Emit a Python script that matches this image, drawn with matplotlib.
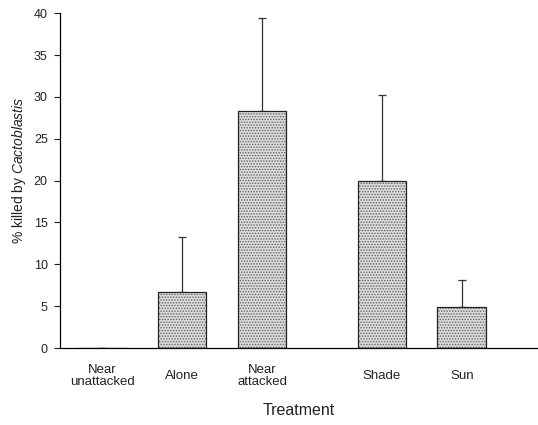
import numpy as np
import matplotlib
matplotlib.use("Agg")
import matplotlib.pyplot as plt
import matplotlib.transforms as mtransforms

plt.rcParams["font.family"] = "Liberation Sans"
plt.rcParams["mathtext.fontset"] = "custom"
plt.rcParams["mathtext.it"] = "Liberation Sans:italic"
plt.rcParams["hatch.linewidth"] = 0.7

# treatment groups, position on x axis (gap between the two experiments)
CATEGORIES = ["Near\nunattacked", "Alone", "Near\nattacked", "Shade", "Sun"]
POSITIONS = [0, 1, 2, 3.5, 4.5]

# % killed by Cactoblastis, mean and upper error
MEANS = [0.0, 6.7, 28.3, 19.9, 4.9]
ERRORS = [0.0, 6.6, 11.1, 10.3, 3.2]

Y_TICKS = [0, 5, 10, 15, 20, 25, 30, 35, 40]


def main():
    fig = plt.figure(figsize=(5.38, 4.25), dpi=100)
    ax = fig.add_axes([0.112, 0.181, 0.886, 0.788])

    x = np.array(POSITIONS)
    width = 0.61

    # stippled fill
    ax.bar(x, MEANS, width=width, color="#dcdcdc", edgecolor="#606060",
           hatch="......", linewidth=0, zorder=2)
    # outline
    ax.bar(x, MEANS, width=width, fill=False, edgecolor="#222222",
           linewidth=0.9, zorder=3)

    ax.errorbar(x, MEANS, yerr=[np.zeros(len(ERRORS)), ERRORS], fmt="none",
                ecolor="#333333", elinewidth=0.9, capsize=3, capthick=0.9,
                zorder=1)

    ax.set_ylim(0, 40)
    ax.set_xlim(-0.525, 5.44)
    ax.set_yticks(Y_TICKS)
    ax.set_yticklabels([str(t) for t in Y_TICKS])

    ax.set_xticks(POSITIONS)
    ax.set_xticklabels(CATEGORIES, fontsize=9.5, linespacing=1.05)
    shift = mtransforms.ScaledTranslation(5 / 72, 0, fig.dpi_scale_trans)
    for lbl in ax.get_xticklabels():
        lbl.set_verticalalignment("center")
        lbl.set_transform(lbl.get_transform() + shift)
    ax.tick_params(axis="x", length=0, pad=20, colors="#222222")
    ax.tick_params(axis="y", direction="out", length=4, width=0.8,
                   labelsize=9, pad=5, colors="#222222")

    for side in ["top", "right"]:
        ax.spines[side].set_visible(False)
    ax.spines["left"].set_linewidth(0.9)
    ax.spines["bottom"].set_linewidth(0.9)

    ax.set_ylabel(r"% killed by $\it{Cactoblastis}$", fontsize=10,
                  color="#222222")
    ax.yaxis.set_label_coords(-0.067, 0.53)
    ax.set_xlabel("Treatment", fontsize=11.5, labelpad=11, color="#222222")

    fig.savefig("out.png", dpi=100)


if __name__ == "__main__":
    main()
